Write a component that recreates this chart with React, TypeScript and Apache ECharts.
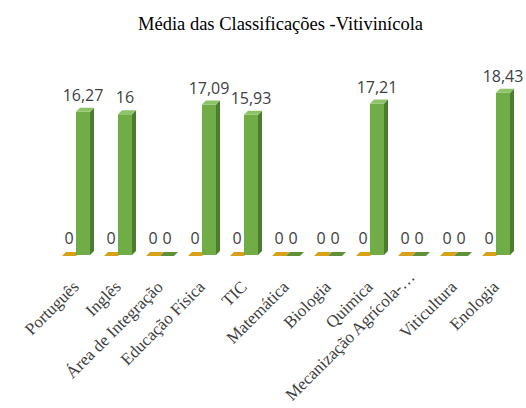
import React, { useEffect, useRef } from "react";
import * as echarts from "echarts";

const categories = [
  "Português",
  "Inglês",
  "Área de Integração",
  "Educação Física",
  "TIC",
  "Matemática",
  "Biologia",
  "Quimica",
  "Mecanização Agrícola-…",
  "Viticultura",
  "Enologia",
];
const seriesA = [0, 0, 0, 0, 0, 0, 0, 0, 0, 0, 0];
const seriesB = [16.27, 16, 0, 17.09, 15.93, 0, 0, 17.21, 0, 0, 18.43];
const longLabel = "Mecanização Agrícola-…";

const palettes = [
  { front: "#DCA11C", side: "#A97A10", top: "#E9B845", floor: "#D9A01A" },
  { front: "#70AD47", side: "#4C7D2E", top: "#8DC468", floor: "#5E9139" },
];

function makeRender(seriesIndex: number) {
  return (params: any, api: any) => {
    const idx = api.value(0);
    const v = api.value(1);
    const base = api.coord([idx, 0]);
    const top = api.coord([idx, v]);
    const band = api.size([1, 0])[0];
    const w = band / 3;
    const c = base[0];
    const x0 = seriesIndex === 0 ? c - w : c;
    const x1 = x0 + w;
    const by = base[1];
    const ty = top[1];
    const d = 4;
    const pal = palettes[seriesIndex];
    const children: any[] = [];
    if (v > 0) {
      children.push({
        type: "polygon",
        shape: { points: [[x1, ty], [x1 + d, ty - d], [x1 + d, by - d], [x1, by]] },
        style: { fill: pal.side },
      });
      children.push({
        type: "rect",
        shape: { x: x0, y: ty, width: w, height: by - ty },
        style: { fill: pal.front },
      });
      children.push({
        type: "polygon",
        shape: { points: [[x0, ty], [x0 + d, ty - d], [x1 + d, ty - d], [x1, ty]] },
        style: { fill: pal.top },
      });
    } else {
      children.push({
        type: "polygon",
        shape: { points: [[x0, by + 1], [x1, by + 1], [x1 + d, by - d + 1], [x0 + d, by - d + 1]] },
        style: { fill: pal.floor },
      });
    }
    const label = String(v).replace(".", ",");
    children.push({
      type: "text",
      x: x0 + w / 2,
      y: v > 0 ? ty - 9 : by - 9,
      style: {
        text: label,
        align: "center",
        verticalAlign: "bottom",
        fontFamily: "Open Sans",
        fontSize: 16,
        fill: "#404040",
      },
    });
    return { type: "group", children };
  };
}

const labelStyle = {
  interval: 0,
  rotate: 45,
  fontFamily: "Liberation Serif",
  fontSize: 17,
  color: "#404040",
};

export default function App() {
  const ref = useRef<HTMLDivElement>(null);
  useEffect(() => {
    if (!ref.current) return;
    const chart = echarts.init(ref.current, undefined, { renderer: "svg" });
    chart.setOption({
      animation: false,
      backgroundColor: "#ffffff",
      title: {
        text: "Média das Classificações -Vitivinícola",
        left: 133,
        top: 9,
        textStyle: {
          fontFamily: "Liberation Serif",
          fontSize: 18.5,
          fontWeight: "normal",
          color: "#000000",
        },
      },
      grid: {
        left: 55,
        right: 9,
        top: 79,
        bottom: 153,
        containLabel: false,
        outerBoundsMode: "none",
      },
      xAxis: [
        {
          type: "category",
          data: categories,
          position: "bottom",
          axisLine: { show: false },
          axisTick: { show: false },
          axisLabel: {
            ...labelStyle,
            margin: 29,
            formatter: (v: string) => (v === longLabel ? "" : v),
          },
        },
        {
          type: "category",
          data: categories,
          position: "bottom",
          axisLine: { show: false },
          axisTick: { show: false },
          axisLabel: {
            ...labelStyle,
            margin: 19,
            formatter: (v: string) => (v === longLabel ? v : ""),
          },
        },
      ],
      yAxis: { type: "value", min: 0, max: 20, show: false },
      series: [
        {
          type: "custom",
          renderItem: makeRender(0),
          data: seriesA.map((v, i) => [i, v]),
          clip: false,
        },
        {
          type: "custom",
          renderItem: makeRender(1),
          data: seriesB.map((v, i) => [i, v]),
          clip: false,
        },
      ],
    });
    return () => chart.dispose();
  }, []);
  return (
    <div
      ref={ref}
      style={{ position: "absolute", left: 0, top: 0, width: 526, height: 408 }}
    />
  );
}
